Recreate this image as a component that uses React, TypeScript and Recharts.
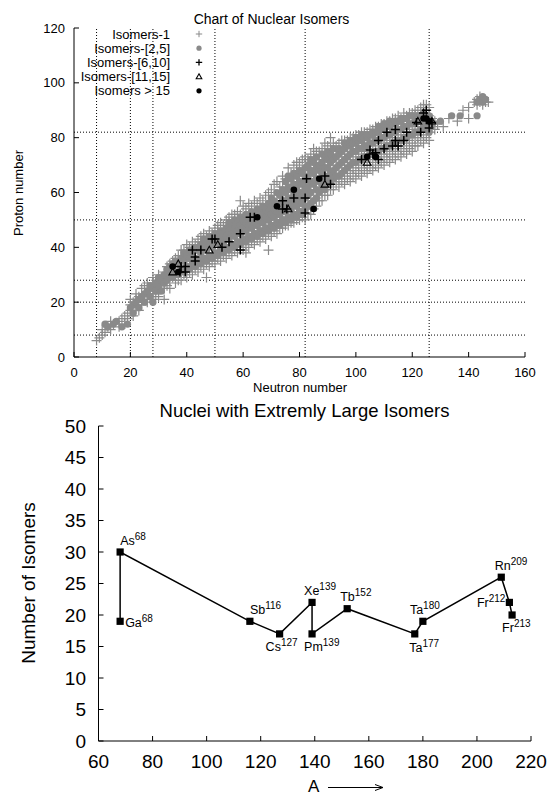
import React from 'react';
import {
  ScatterChart,
  Scatter,
  LineChart,
  Line,
  XAxis,
  YAxis,
  ReferenceLine,
  Legend,
} from 'recharts';

// ---- top chart: nuclear isomers on the N-Z plane ----
// rows are [neutron number, [proton numbers...]]
const isomers1: [number, number[]][] = [
  [8, [6]], [9, [7]], [10, [8, 10]], [11, [9]], [12, [11]], [13, [10, 13]], [14, [12]],
  [16, [11, 13]], [17, [14]], [18, [12, 15]], [19, [16, 14]], [20, [17, 19, 21]],
  [21, [15, 20]], [22, [18, 21, 23]], [23, [17, 22]], [24, [19, 22, 25]], [25, [21, 26]],
  [26, [20, 23, 27]], [27, [22, 25]], [28, [21, 24, 27, 29]], [29, [23, 28]],
  [30, [22, 25, 28, 30]], [31, [26, 29]], [32, [21, 25, 27, 31]], [33, [26, 30, 33]],
  [34, [25, 28, 31, 34]], [35, [29, 32, 35]], [36, [27, 30, 33, 36]], [37, [28, 32, 35, 37]],
  [38, [28, 31, 34, 37, 39]], [39, [30, 33, 36, 39]], [40, [29, 32, 35, 38, 41]],
  [41, [31, 34, 37, 40]], [42, [30, 33, 36, 39, 42]], [43, [32, 35, 38, 41]],
  [44, [31, 34, 38, 40, 43]], [45, [33, 36, 39, 42, 44]], [46, [32, 35, 39, 42, 45]],
  [47, [29, 34, 37, 41, 44]], [48, [33, 36, 40, 43, 46]], [49, [35, 38, 42, 45]],
  [50, [34, 37, 41, 44, 47]], [51, [36, 39, 43, 46, 48]], [52, [35, 38, 42, 45, 49]],
  [53, [37, 40, 44, 48]], [54, [36, 40, 43, 47, 50]], [55, [38, 41, 45, 49, 51]],
  [56, [37, 41, 45, 48, 52]], [57, [39, 42, 46, 50, 52]], [58, [38, 42, 46, 50, 53]],
  [59, [40, 44, 48, 52, 57]], [60, [39, 43, 47, 51, 55]], [61, [38, 41, 45, 49, 54]],
  [62, [40, 44, 48, 52, 56]], [63, [42, 46, 51, 55]], [64, [41, 45, 49, 53, 57]],
  [65, [43, 47, 52, 56]], [66, [42, 46, 50, 54, 58]], [67, [44, 48, 53, 57]],
  [68, [43, 47, 51, 55, 59]], [69, [39, 45, 49, 54, 60]], [70, [44, 48, 52, 56, 61]],
  [71, [46, 50, 55, 59, 63]], [72, [45, 49, 53, 57, 64]], [73, [47, 51, 56, 62]],
  [74, [47, 50, 54, 58, 62, 66]], [75, [48, 52, 57, 60, 65]],
  [76, [48, 51, 55, 59, 63, 69]], [77, [49, 53, 58, 62, 67]],
  [78, [49, 52, 56, 60, 64, 70]], [79, [50, 54, 59, 64, 68, 71]],
  [80, [50, 53, 57, 61, 65, 69, 71]], [81, [51, 55, 60, 63, 68, 72]],
  [82, [50, 54, 58, 62, 66, 70, 73]], [83, [52, 56, 61, 65, 68, 72]],
  [84, [52, 55, 59, 63, 67, 71, 74]], [85, [54, 57, 61, 65, 69, 73, 76]],
  [86, [55, 58, 62, 66, 70, 75]], [87, [57, 61, 64, 68, 72, 75]],
  [88, [57, 60, 64, 68, 72, 76]], [89, [59, 62, 66, 70, 74, 78]],
  [90, [59, 62, 66, 70, 74, 77]], [91, [61, 64, 68, 72, 76, 80]],
  [92, [61, 64, 68, 72, 75, 78]], [93, [63, 66, 70, 74, 77]], [94, [62, 65, 69, 73, 78]],
  [95, [64, 67, 71, 75, 79]], [96, [63, 66, 70, 74, 79]], [97, [65, 68, 72, 76, 79]],
  [98, [64, 67, 71, 75, 80]], [99, [66, 69, 73, 77, 80]], [100, [65, 68, 72, 76, 81]],
  [101, [67, 70, 74, 78, 81]], [102, [66, 69, 73, 77, 82]], [103, [68, 71, 75, 79, 82]],
  [104, [67, 70, 74, 78, 82]], [105, [69, 72, 76, 80, 83]], [106, [68, 71, 75, 79, 83]],
  [107, [70, 73, 77, 81, 84]], [108, [69, 72, 76, 80, 84]], [109, [71, 74, 78, 82, 85]],
  [110, [70, 73, 77, 81, 85]], [111, [72, 75, 79, 83, 86]], [112, [71, 74, 78, 82, 86]],
  [113, [73, 76, 80, 84, 87]], [114, [72, 75, 79, 83, 87]], [115, [74, 77, 81, 85, 88]],
  [116, [73, 76, 80, 84, 87]], [117, [75, 78, 82, 86, 89]], [118, [74, 77, 81, 85, 88]],
  [119, [76, 79, 83, 87, 89]], [120, [75, 78, 82, 86, 89]], [121, [77, 80, 84, 88, 90]],
  [122, [77, 80, 83, 87, 90]], [123, [79, 82, 85, 89, 91]],
  [124, [78, 81, 84, 88, 91, 92]], [125, [80, 83, 86, 90, 92]],
  [126, [79, 82, 85, 88, 91]], [127, [84, 87]], [128, [83, 86]], [129, [85]], [131, [84]],
  [133, [87]], [136, [86]], [138, [90]], [140, [87, 91]], [142, [93]], [143, [92, 94]],
  [144, [93, 95]], [145, [92, 94]], [146, [93]], [147, [93]],
];

const isomers2to5: [number, number[]][] = [
  [11, [12]], [12, [11]], [14, [12]], [15, [13]], [17, [11]], [19, [12]], [20, [18]],
  [21, [19, 16]], [22, [20]], [23, [18, 21]], [24, [22]], [25, [20, 23]], [26, [24]],
  [27, [22, 26]], [28, [20, 25]], [29, [24, 27]], [30, [26, 29]], [31, [24, 28]],
  [32, [27, 30]], [33, [28, 32]], [34, [30, 33]], [35, [29, 34]], [36, [31, 35]],
  [37, [30, 34]], [38, [32, 36]], [39, [31, 35, 38]], [40, [33, 37]], [41, [32, 36, 39]],
  [42, [34, 38]], [43, [33, 36, 40]], [44, [35, 39]], [45, [34, 38, 41]],
  [46, [36, 40, 43]], [47, [35, 39, 42]], [48, [37, 41, 44]], [49, [36, 40, 43]],
  [50, [38, 42, 45]], [51, [37, 41, 44]], [52, [39, 43, 46]], [53, [38, 42, 45]],
  [54, [40, 44, 47]], [55, [39, 43, 46, 49]], [56, [41, 45, 48]], [57, [40, 44, 47, 50]],
  [58, [42, 46, 49]], [59, [41, 45, 48, 51]], [60, [43, 47, 50]], [61, [42, 46, 49, 52]],
  [62, [44, 48, 51]], [63, [43, 47, 50, 53]], [64, [45, 49, 52]], [65, [44, 48, 51, 54]],
  [66, [46, 50, 53]], [67, [45, 49, 52, 55]], [68, [47, 51, 54]], [69, [46, 50, 53, 56]],
  [70, [48, 52, 55, 58]], [71, [47, 51, 54, 57]], [72, [49, 53, 56, 60]],
  [73, [48, 52, 55, 59]], [74, [50, 54, 57, 61]], [75, [49, 53, 56, 60, 64]],
  [76, [51, 55, 58, 62, 66]], [77, [50, 54, 57, 61, 65]], [78, [52, 56, 59, 63, 67]],
  [79, [51, 55, 58, 62, 66]], [80, [53, 57, 60, 64, 68]], [81, [52, 56, 59, 63, 67]],
  [82, [54, 58, 61, 65, 69]], [83, [55, 59, 62, 66, 70]], [84, [56, 60, 64, 68, 72]],
  [85, [57, 63, 67, 71]], [86, [58, 61, 65, 69, 73]], [87, [60, 64, 68, 70]],
  [88, [61, 63, 67, 71, 74]], [89, [61, 65, 69, 73]], [90, [63, 66, 69, 72, 75]],
  [91, [64, 67, 71, 74]], [92, [65, 68, 72, 76]], [93, [66, 69, 73]],
  [94, [66, 70, 74, 76]], [95, [67, 71, 75]], [96, [68, 72, 76, 78]], [97, [69, 73, 77]],
  [98, [70, 74, 77, 79]], [99, [71, 75, 78]], [100, [71, 75, 78, 80]], [101, [72, 76, 79]],
  [102, [72, 76, 79, 81]], [103, [73, 77, 80]], [104, [73, 77, 80, 81]], [105, [74, 78, 81]],
  [106, [74, 78, 81, 82]], [107, [75, 79, 82]], [108, [75, 79, 82, 84]], [109, [76, 80, 83]],
  [110, [76, 80, 83, 85]], [111, [77, 81, 84]], [112, [77, 81, 84, 86]], [113, [78, 82, 85]],
  [114, [78, 82, 85, 86]], [115, [79, 83, 86]], [116, [79, 83, 86, 87]], [117, [80, 84, 87]],
  [118, [80, 84, 87]], [119, [81, 85, 88]], [120, [81, 85, 88]], [121, [82, 86]],
  [122, [82, 86, 88]], [123, [83, 87]], [124, [83, 85, 87, 89]], [125, [84, 86, 88]],
  [126, [82, 84, 86, 88]], [127, [85]], [130, [86]], [134, [88]], [137, [88]],
  [143, [88, 93]], [144, [94]], [145, [93, 95]], [146, [94]],
];

const isomers6to10: [number, number][] = [
  [38, 33], [39.5, 33], [37.6, 31], [39.5, 31], [42, 39], [45, 39], [43, 36.5], [43, 35],
  [49, 43], [50, 43], [52.5, 40], [55, 42], [59, 45], [59, 39], [62.5, 51], [64, 51],
  [74, 57], [74, 54], [75.5, 54], [78, 58], [82, 58], [82, 52.5], [82.5, 65], [89, 66],
  [91, 63], [102, 72], [105, 75.5], [106, 74], [108, 79], [110, 76], [113, 77], [114, 83],
  [118, 82], [115, 77], [111, 82], [123, 82], [114, 79], [117, 79], [124, 89],
  [125, 86.5], [127, 85.5], [126, 83.5], [121.5, 85.5], [125, 90], [107, 74.5], [108, 72],
];

const isomers11to15: [number, number][] = [
  [35, 31], [37, 34], [48, 39], [51, 41], [76, 54], [89, 63], [104, 71], [122, 86], [127, 86],
];

const isomersOver15: [number, number][] = [
  [35, 33], [37, 31], [65, 51], [72, 55], [78, 61], [87, 65], [85, 54], [104, 73],
  [107, 73], [124, 87], [125, 87], [126, 86],
];

const magicNumbers = [8, 20, 28, 50, 82, 126];
const neutronTicks = [0, 20, 40, 60, 80, 100, 120, 140, 160];
const protonTicks = [0, 20, 40, 60, 80, 100, 120];

// ---- bottom chart: nuclei with many isomers ----
const elements = ['Ga', 'As', 'Sb', 'Cs', 'Xe', 'Pm', 'Tb', 'Ta', 'Ta', 'Rn', 'Fr', 'Fr'];
const massNumbers = [68, 68, 116, 127, 139, 139, 152, 177, 180, 209, 212, 213];
const isomerCounts = [19, 30, 19, 17, 22, 17, 21, 17, 19, 26, 22, 20];
const massTicks = [60, 80, 100, 120, 140, 160, 180, 200, 220];
const countTicks = [0, 5, 10, 15, 20, 25, 30, 35, 40, 45, 50];

// label offsets (px) from each marker: [dx to text start, dy to baseline]
const labelOffsets: [number, number][] = [
  [5, 6], [0, -7], [0, -7.5], [-14, 17], [-8, -7.5], [-8, 17],
  [-7, -7.5], [-5.5, 18], [-13, -7.5], [-6.5, -7.5], [-32.5, 4.5], [-10, 17],
];

const flatten = (rows: [number, number[]][]) =>
  rows.flatMap(([n, zs]) => zs.map((z) => ({ n, z })));
const toPoints = (pts: [number, number][]) => pts.map(([n, z]) => ({ n, z }));

const grayCrosses = flatten(isomers1);
const grayDots = flatten(isomers2to5);
const blackCrosses = toPoints(isomers6to10);
const triangles = toPoints(isomers11to15);
const blackDots = toPoints(isomersOver15);

const nucleiData = massNumbers.map((a, i) => ({
  a,
  count: isomerCounts[i],
  el: elements[i],
}));

const GRAY = '#8a8a8a';
const FONT = '"Liberation Sans", Arial, sans-serif';

const Plus = ({ cx, cy, color, r = 5, w = 1.2 }: any) => (
  <path
    d={`M${cx - r},${cy}H${cx + r}M${cx},${cy - r}V${cy + r}`}
    stroke={color}
    strokeWidth={w}
    fill="none"
  />
);

const Tri = ({ cx, cy, r = 3.8 }: any) => (
  <path
    d={`M${cx},${cy - r}L${cx + r},${cy + r * 0.75}L${cx - r},${cy + r * 0.75}Z`}
    stroke="#000"
    strokeWidth={1.1}
    fill="none"
  />
);

const legendRows = [
  { label: 'Isomers-1', kind: 'grayPlus' },
  { label: 'Isomers-[2,5]', kind: 'grayDot' },
  { label: 'Isomers-[6,10]', kind: 'blackPlus' },
  { label: 'Isomers-[11,15]', kind: 'tri' },
  { label: 'Isomers > 15', kind: 'blackDot' },
];

const renderLegend = () => (
  <svg width={160} height={76} style={{ display: 'block' }}>
    {legendRows.map((row, i) => {
      const y = 8 + i * 14.2;
      const sx = 139;
      return (
        <g key={row.label}>
          <text x={110} y={y} dy="0.35em" textAnchor="end" fontSize={13} fill="#000">
            {row.label}
          </text>
          {row.kind === 'grayPlus' && <Plus cx={sx} cy={y} color={GRAY} r={3.2} w={1} />}
          {row.kind === 'grayDot' && <circle cx={sx} cy={y} r={2.6} fill={GRAY} />}
          {row.kind === 'blackPlus' && <Plus cx={sx} cy={y} color="#000" r={3.2} w={1.3} />}
          {row.kind === 'tri' && <Tri cx={sx} cy={y} r={2.8} />}
          {row.kind === 'blackDot' && <circle cx={sx} cy={y} r={2.6} fill="#000" />}
        </g>
      );
    })}
  </svg>
);

const NucleusMarker = (props: any) => {
  const { cx, cy, index } = props;
  const [dx, dy] = labelOffsets[index];
  return (
    <g key={`nuc-${index}`}>
      <rect x={cx - 3.6} y={cy - 3.6} width={7.2} height={7.2} fill="#000" />
      <text x={cx + dx} y={cy + dy} fontSize={12.5} fill="#000">
        {elements[index]}
        <tspan dy={-5} fontSize={10}>
          {massNumbers[index]}
        </tspan>
      </text>
    </g>
  );
};

const abs = (style: React.CSSProperties): React.CSSProperties => ({
  position: 'absolute',
  whiteSpace: 'nowrap',
  color: '#000',
  lineHeight: 1,
  ...style,
});

export default function App() {
  return (
    <div
      style={{
        position: 'absolute',
        left: 0,
        top: 0,
        width: 551,
        height: 797,
        background: '#fff',
        fontFamily: FONT,
        overflow: 'hidden',
      }}
    >
      <div style={{ position: 'absolute', left: 0, top: 0 }}>
        <ScatterChart
          width={551}
          height={395}
          margin={{ top: 28, right: 26, bottom: 0, left: 0 }}
        >
          <XAxis
            dataKey="n"
            type="number"
            domain={[0, 160]}
            ticks={neutronTicks}
            height={38}
            stroke="#000"
            tickSize={-5}
            tickMargin={16}
            tick={{ fontSize: 13, fill: '#000' }}
            allowDataOverflow
          />
          <XAxis
            xAxisId="top"
            orientation="top"
            type="number"
            domain={[0, 160]}
            ticks={neutronTicks}
            height={0}
            stroke="#000"
            tickSize={-5}
            tick={false}
            allowDataOverflow
          />
          <YAxis
            dataKey="z"
            type="number"
            domain={[0, 120]}
            ticks={protonTicks}
            width={74}
            stroke="#000"
            tickSize={-5}
            tickMargin={14}
            tick={{ fontSize: 13, fill: '#000' }}
            allowDataOverflow
          />
          <YAxis
            yAxisId="right"
            orientation="right"
            type="number"
            domain={[0, 120]}
            ticks={protonTicks}
            width={0}
            stroke="#000"
            tickSize={-5}
            tick={false}
            allowDataOverflow
          />
          <Scatter
            data={grayCrosses}
            isAnimationActive={false}
            shape={(p: any) => <Plus cx={p.cx} cy={p.cy} color={GRAY} />}
          />
          <Scatter
            data={grayDots}
            isAnimationActive={false}
            shape={(p: any) => <circle cx={p.cx} cy={p.cy} r={3.6} fill={GRAY} />}
          />
          <Scatter
            data={blackCrosses}
            isAnimationActive={false}
            shape={(p: any) => <Plus cx={p.cx} cy={p.cy} color="#000" r={4.5} w={1.5} />}
          />
          <Scatter
            data={triangles}
            isAnimationActive={false}
            shape={(p: any) => <Tri cx={p.cx} cy={p.cy} />}
          />
          <Scatter
            data={blackDots}
            isAnimationActive={false}
            shape={(p: any) => <circle cx={p.cx} cy={p.cy} r={3.3} fill="#000" />}
          />
          {magicNumbers.map((m) => (
            <ReferenceLine key={`v${m}`} x={m} stroke="#000" strokeDasharray="1 2" />
          ))}
          {magicNumbers.map((m) => (
            <ReferenceLine key={`h${m}`} y={m} stroke="#000" strokeDasharray="1 2" />
          ))}
          <Legend
            content={renderLegend}
            layout="vertical"
            align="center"
            verticalAlign="middle"
            wrapperStyle={{ top: 26, left: 60, width: 160 }}
          />
        </ScatterChart>
      </div>

      <div style={abs({ left: 0, width: 543, top: 12, fontSize: 14, textAlign: 'center' })}>
        Chart of Nuclear Isomers
      </div>
      <div style={abs({ left: 250, width: 100, top: 381, fontSize: 13, textAlign: 'center' })}>
        Neutron number
      </div>
      <div
        style={abs({
          left: 18,
          top: 193,
          fontSize: 13,
          transform: 'translate(-50%, -50%) rotate(-90deg)',
        })}
      >
        Proton number
      </div>

      <div style={{ position: 'absolute', left: 0, top: 390 }}>
        <LineChart
          width={551}
          height={407}
          data={nucleiData}
          margin={{ top: 36, right: 20, bottom: 0, left: 0 }}
        >
          <XAxis
            dataKey="a"
            type="number"
            domain={[60, 220]}
            ticks={massTicks}
            height={56}
            stroke="#000"
            tickSize={-5}
            tickMargin={19}
            tick={{ fontSize: 19, fill: '#000' }}
            allowDataOverflow
          />
          <XAxis
            xAxisId="top"
            orientation="top"
            type="number"
            domain={[60, 220]}
            ticks={massTicks}
            height={0}
            stroke="#000"
            tickSize={-5}
            tick={false}
            allowDataOverflow
          />
          <YAxis
            type="number"
            domain={[0, 50]}
            ticks={countTicks}
            width={98.5}
            stroke="#000"
            tickSize={-5}
            tickMargin={17.5}
            tick={{ fontSize: 19, fill: '#000' }}
            allowDataOverflow
          />
          <YAxis
            yAxisId="right"
            orientation="right"
            type="number"
            domain={[0, 50]}
            ticks={countTicks}
            width={0}
            stroke="#000"
            tickSize={-5}
            tick={false}
            allowDataOverflow
          />
          <Line
            dataKey="count"
            stroke="#000"
            strokeWidth={1.5}
            dot={NucleusMarker}
            activeDot={false}
            isAnimationActive={false}
          />
        </LineChart>
      </div>

      <div style={abs({ left: 0, width: 609, top: 402, fontSize: 18.5, textAlign: 'center' })}>
        Nuclei with Extremly Large Isomers
      </div>
      <div
        style={abs({
          left: 28,
          top: 583,
          fontSize: 19,
          transform: 'translate(-50%, -50%) rotate(-90deg)',
        })}
      >
        Number of Isomers
      </div>
      <svg style={{ position: 'absolute', left: 300, top: 776 }} width={90} height={20}>
        <text x={8} y={16} fontSize={17} fill="#000">
          A
        </text>
        <path d="M28,11.5H83M75,8.5L83,11.5L75,14.5" stroke="#000" strokeWidth={1} fill="none" />
      </svg>
    </div>
  );
}
